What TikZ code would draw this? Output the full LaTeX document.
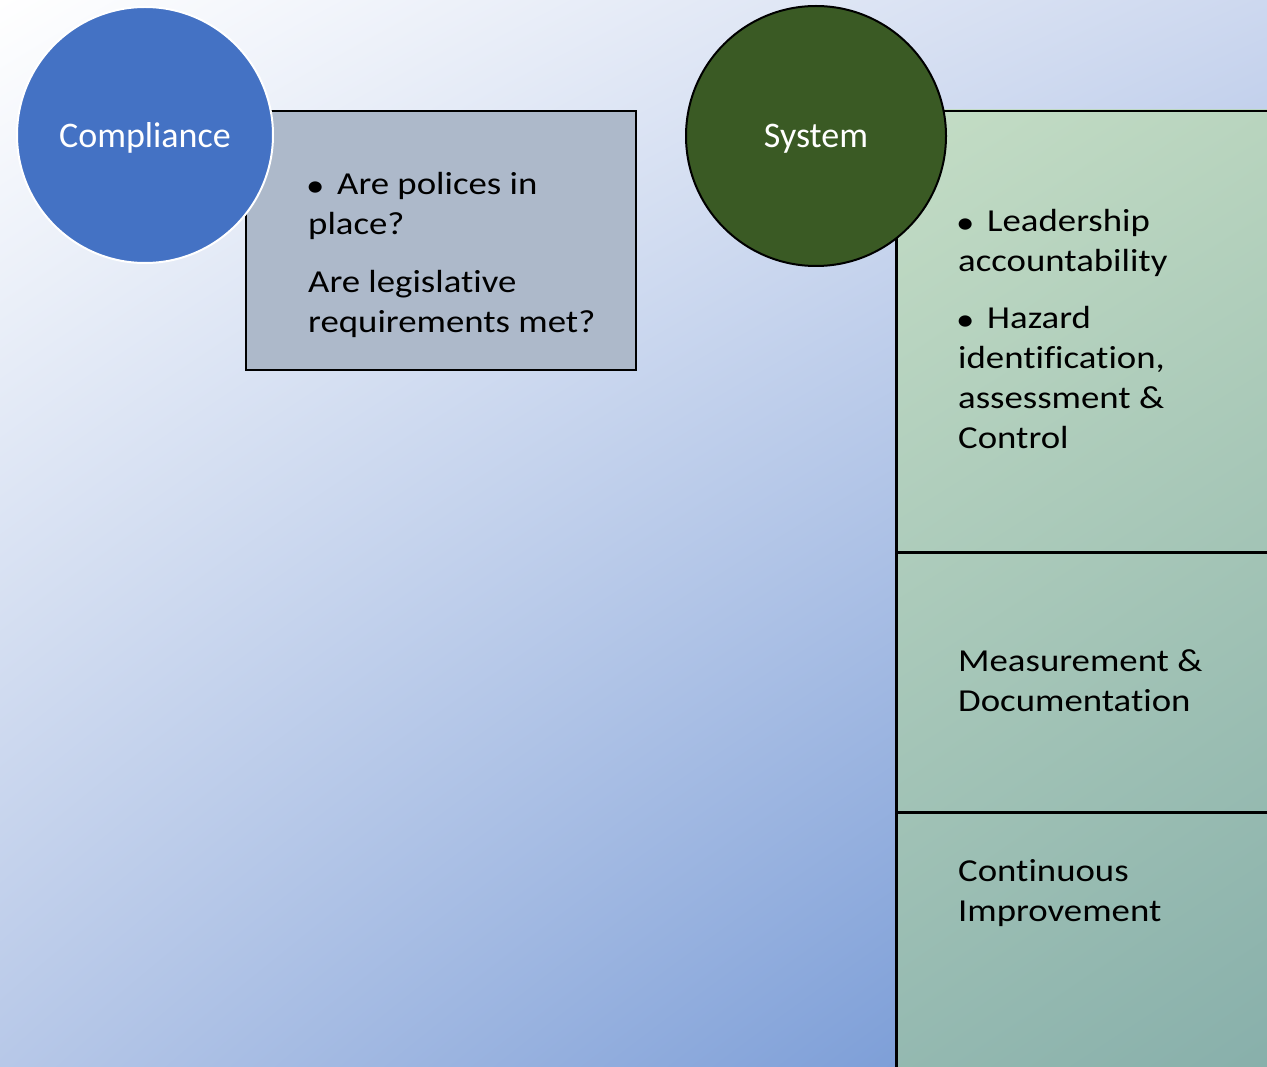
\documentclass[tikz,border=0pt]{standalone}
\usepackage{fontspec}
\usetikzlibrary{shadings}
\setmainfont{Carlito}[Ligatures=NoCommon]
\newfontfamily\bodyfont{Carlito}[FakeStretch=1.15, Ligatures=NoCommon]
\definecolor{compblue}{HTML}{4472C4}
\definecolor{boxgrey}{HTML}{ADB9CA}
\definecolor{sysgreen}{HTML}{3A5A24}
\definecolor{bgUR}{RGB}{205,216,239}
\definecolor{bgLL}{RGB}{183,200,232}
\definecolor{bgLR}{RGB}{102,142,209}
\definecolor{pUL}{HTML}{C4DDC5}
\definecolor{pUR}{HTML}{B8D4BE}
\definecolor{pLL}{HTML}{93B8B0}
\definecolor{pLR}{HTML}{86AEAA}
\newcommand\firstl{\rule{0pt}{30pt}}
\newcommand\bul{\makebox[29pt][l]{\hspace{-2pt}\raisebox{-2pt}{\fontsize{32}{40}\selectfont\symbol{"2022}}}}
\tikzset{
  circlabel/.style={circle, inner sep=0pt, text=white, text depth=0pt, font=\fontsize{36}{40}\selectfont},
  greybox/.style={rectangle, draw=black, line width=2pt, fill=boxgrey, inner sep=0pt},
  sectionbox/.style={rectangle, draw=black, line width=2.5pt, inner sep=0pt},
  bodytext/.style={inner sep=0pt, anchor=north west, align=left, text=black,
    font=\bodyfont\fontsize{32}{40}\selectfont},
}
\begin{document}
\begin{tikzpicture}[x=1pt,y=-1pt]
\useasboundingbox (0,0) rectangle (1267,1067);
\clip (0,0) rectangle (1267,1067);
% background
\shade[upper left=white, upper right=bgUR, lower left=bgLL, lower right=bgLR] (0,0) rectangle (1267,1067);
% compliance
\node[greybox, anchor=north west, minimum width=390pt, minimum height=259pt] (cbox) at (245,110) {};
\node[circlabel, fill=compblue, draw=white, line width=2pt, minimum size=256pt] (comp) at (145,135) {Compliance};
\node[bodytext] (ctext) at (308,164) {\firstl\bul Are polices in\\place?\\[18pt]Are legislative\\requirements met?};
% system panel
\shade[upper left=pUL, upper right=pUR, lower left=pLL, lower right=pLR] (895,110) rectangle (1290,1090);
\node[sectionbox, anchor=north west, minimum width=420pt, minimum height=441pt] (sec1) at (895,110) {};
\node[sectionbox, anchor=north west, minimum width=420pt, minimum height=260pt] (sec2) at (895,551) {};
\node[sectionbox, anchor=north west, minimum width=420pt, minimum height=300pt] (sec3) at (895,811) {};
\node[circlabel, fill=sysgreen, draw=black, line width=2pt, minimum size=260pt] (sys) at (816,136) {System};
\node[bodytext] (s1text) at (958,201) {\firstl\bul Leadership\\accountability\\[17pt]\bul Hazard\\identification,\\assessment \&\\Control};
\node[bodytext] (s2text) at (958,641) {\firstl Measurement \&\\Documentation};
\node[bodytext] (s3text) at (958,851) {\firstl Continuous\\Improvement};
\end{tikzpicture}
\end{document}
